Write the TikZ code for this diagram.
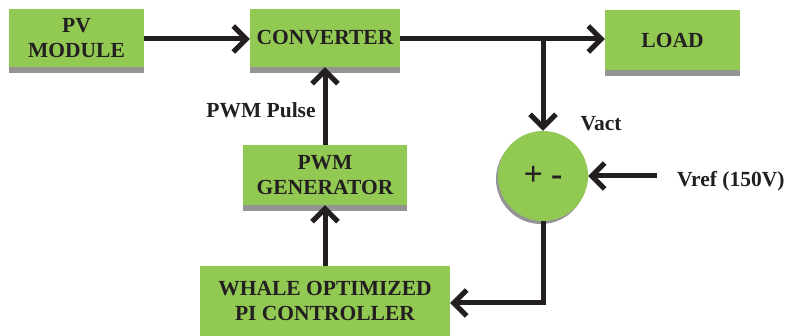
\documentclass[tikz,border=0pt]{standalone}
\usepackage{fontspec}
\setmainfont{Liberation Serif}
\usetikzlibrary{arrows.meta}
\definecolor{boxgreen}{RGB}{146,201,82}
\definecolor{shadowgray}{RGB}{148,148,148}
\definecolor{ink}{RGB}{35,31,32}
\begin{document}
\begin{tikzpicture}[x=1pt,y=-1pt,
  blk/.style={rectangle,fill=boxgreen,text=ink,font=\fontsize{21.5}{25.5}\selectfont\bfseries,align=center,inner sep=0pt,
    preaction={fill=shadowgray,transform canvas={yshift=-6pt}}},
  sumc/.style={circle,fill=boxgreen,minimum size=90pt,inner sep=0pt,text=ink,
    preaction={fill=shadowgray,transform canvas={xshift=-2pt,yshift=-3pt}}},
  lbl/.style={text=ink,font=\fontsize{21.5}{23}\selectfont\bfseries,inner sep=0pt},
  conn/.style={draw=ink,line width=5pt,-{Straight Barb[length=13pt,width=26pt,line width=5pt]}},
  wire/.style={draw=ink,line width=5pt}]
\useasboundingbox (0,0) rectangle (785,336);
\node[blk,minimum width=135pt,minimum height=58pt] (pv) at (76.5,38) {PV\\MODULE};
\node[blk,minimum width=150pt,minimum height=58pt] (conv) at (325,38) {CONVERTER};
\node[blk,minimum width=135pt,minimum height=60pt] (load) at (672.5,40) {LOAD};
\node[blk,minimum width=164pt,minimum height=60pt] (pwm) at (325,175) {PWM\\GENERATOR};
\node[blk,minimum width=250pt,minimum height=70pt] (whale) at (325,301) {WHALE OPTIMIZED\\PI CONTROLLER};
\node[sumc] (sum) at (543,176) {\fontsize{34}{36}\selectfont\bfseries +\hspace{8pt}-};
\node[lbl] (pulse) at (261,110) {PWM Pulse};
\node[lbl] (vact) at (601,124) {Vact};
\node[lbl,anchor=west] (vref) at (677,181) {Vref (150V)};
\coordinate (branch) at (543,39);
\coordinate (vrefin) at (657,176);
\coordinate (corner) at (543,303);
\draw[conn] (pv.east |- 0,39) -- (conv.west |- 0,39);
\draw[wire] (conv.east |- 0,39) -- (branch);
\draw[conn] (branch) -- (load.west |- branch);
\draw[conn] (branch) -- (sum.north);
\draw[conn] (vrefin) -- (sum.east);
\draw[conn] (sum.south) -- (corner) -- (whale.east |- corner);
\draw[conn] (whale.north) -- (pwm.south);
\draw[conn] (pwm.north) -- (conv.south);
\end{tikzpicture}
\end{document}
